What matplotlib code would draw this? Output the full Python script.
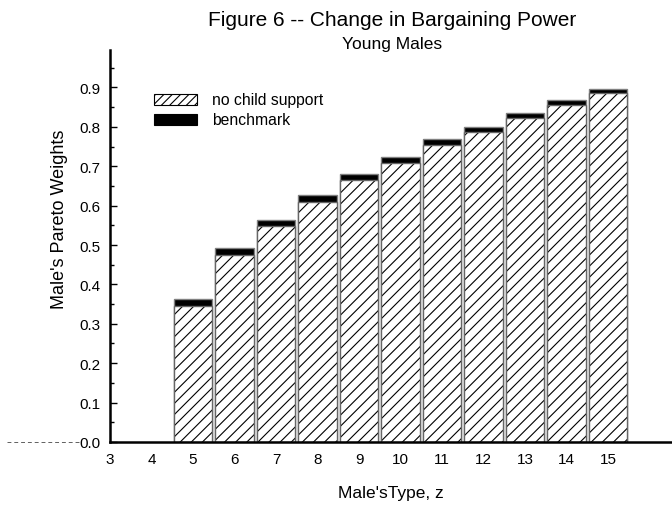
import numpy as np
import matplotlib
matplotlib.use('Agg')
import matplotlib.pyplot as plt
from matplotlib.patches import Rectangle

plt.rcParams['font.family'] = ['Liberation Sans', 'DejaVu Sans']
plt.rcParams['hatch.linewidth'] = 0.8

male_type = [5, 6, 7, 8, 9, 10, 11, 12, 13, 14, 15]
no_child_support = [0.344, 0.475, 0.549, 0.610, 0.665, 0.708, 0.755, 0.788, 0.823, 0.856, 0.886]
benchmark = [0.363, 0.492, 0.564, 0.627, 0.679, 0.724, 0.770, 0.799, 0.835, 0.867, 0.897]
x_ticks = [3, 4, 5, 6, 7, 8, 9, 10, 11, 12, 13, 14, 15]
y_ticks = [0.0, 0.1, 0.2, 0.3, 0.4, 0.5, 0.6, 0.7, 0.8, 0.9]

fig = plt.figure(figsize=(6.72, 5.10), dpi=100)
ax = fig.add_axes([0.1637, 0.1314, 0.8363, 0.7686])

w = 0.93
ax.bar(male_type, benchmark, width=w, color='black', edgecolor='#808080', linewidth=1)
# hatch takes the edge colour, so draw black hatching first and the gray outline on top
ax.bar(male_type, no_child_support, width=w, color='white', edgecolor='black',
       linewidth=0, hatch='///')
ax.bar(male_type, no_child_support, width=w, fill=False, edgecolor='#666666', linewidth=1)

ax.set_xlim(3, 16.54)
ax.set_ylim(0, 0.995)
ax.set_xticks(x_ticks)
ax.set_yticks(y_ticks)
ax.set_yticklabels(['%.1f' % v for v in y_ticks])
ax.set_yticks(np.arange(0.05, 1.0, 0.1), minor=True)
ax.tick_params(axis='x', length=0, pad=7, labelsize=11)
ax.tick_params(axis='y', which='major', direction='in', length=5, width=1, pad=7, labelsize=11)
ax.tick_params(axis='y', which='minor', direction='in', length=3, width=1)

ax.spines['top'].set_visible(False)
ax.spines['right'].set_visible(False)
ax.spines['left'].set_linewidth(1.8)
ax.spines['bottom'].set_linewidth(1.8)

# dotted baseline running off to the left of the axis
ax.plot([-0.183, -0.053], [0, 0], transform=ax.transAxes, clip_on=False,
        color='#606060', linestyle=(0, (4, 3)), linewidth=0.7)

ax.set_xlabel("Male'sType, z", fontsize=12.5, labelpad=14)
ax.set_ylabel("Male's Pareto Weights", fontsize=13)
ax.yaxis.set_label_coords(-0.074, 0.57)

fig.text(0.583, 1 - 21 / 510, 'Figure 6 -- Change in Bargaining Power', ha='center', va='center', fontsize=15)
fig.text(0.583, 1 - 44 / 510, 'Young Males', ha='center', va='center', fontsize=12.5)

# legend
lx0, lw, lh = 154, 43, 10.5
fig.patches.append(Rectangle((lx0 / 672, 1 - 105.5 / 510), lw / 672, lh / 510,
                             transform=fig.transFigure, facecolor='white',
                             edgecolor='black', linewidth=0.8, hatch='////'))
fig.patches.append(Rectangle((lx0 / 672, 1 - 125.5 / 510), lw / 672, lh / 510,
                             transform=fig.transFigure, facecolor='black',
                             edgecolor='black', linewidth=0.8))
fig.text(212 / 672, 1 - 101 / 510, 'no child support', va='center', fontsize=11.3)
fig.text(212 / 672, 1 - 120.5 / 510, 'benchmark', va='center', fontsize=11.3)

fig.savefig('out.png', dpi=100)
